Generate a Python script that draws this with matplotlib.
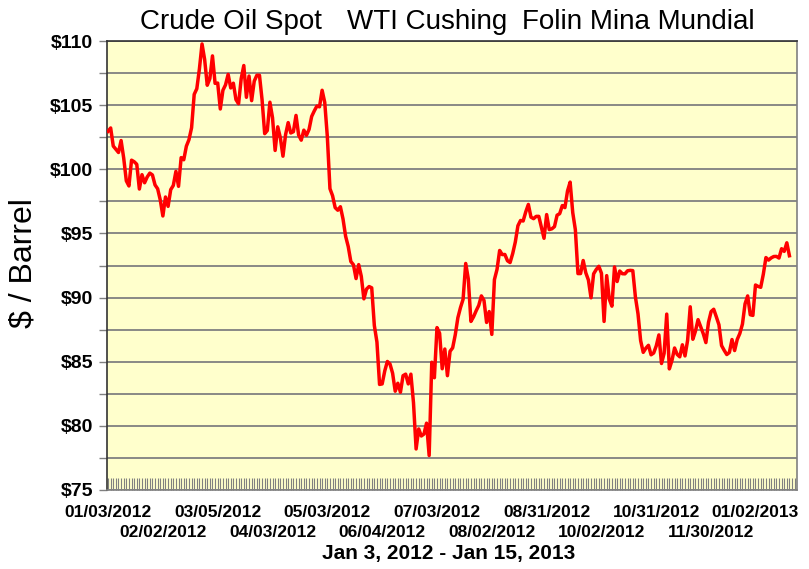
import matplotlib
matplotlib.use('Agg')
import matplotlib.pyplot as plt
import matplotlib.transforms as mtransforms
from matplotlib.ticker import MultipleLocator, FuncFormatter

# WTI Cushing daily spot, $/barrel, Jan 3 2012 - Jan 15 2013 (one value per trading day)
prices = [
    # Jan 2012
    102.96, 103.22, 101.81, 101.56, 101.31, 102.24, 100.87, 99.10, 98.70, 100.71,
    100.59, 100.39, 98.46, 99.58, 98.95, 99.40, 99.70, 99.56, 98.78, 98.48,
    # Feb
    97.61, 96.36, 97.84, 97.11, 98.41, 98.74, 99.84, 98.67, 100.91, 100.74,
    101.80, 102.31, 103.24, 105.84, 106.28, 107.83, 109.77, 108.56, 106.55, 107.07,
    # Mar
    108.84, 106.70, 106.72, 104.70, 106.16, 106.58, 107.40, 106.34, 106.71, 105.43,
    105.11, 107.06, 108.09, 105.61, 107.27, 105.35, 106.87, 107.33, 107.33, 105.41,
    102.78, 103.02,
    # Apr
    105.23, 104.02, 101.47, 103.31, 102.46, 101.02, 102.70, 103.64, 102.83, 102.93,
    104.20, 102.67, 102.27, 103.05, 102.65, 103.11, 104.12, 104.55, 104.93, 104.87,
    # May
    106.16, 105.22, 102.54, 98.49, 97.94, 97.01, 96.81, 97.08, 96.13, 94.78,
    93.98, 92.81, 92.56, 91.48, 92.57, 91.66, 89.90, 90.66, 90.86, 90.76,
    87.82, 86.53,
    # Jun
    83.23, 83.27, 84.29, 85.02, 84.82, 84.10, 82.70, 83.32, 82.62, 83.91,
    84.03, 83.27, 84.03, 81.80, 78.20, 79.76, 79.21, 79.36, 80.21, 77.69,
    84.96,
    # Jul
    83.75, 87.66, 87.22, 84.45, 85.99, 83.91, 85.81, 86.08, 87.10, 88.43,
    89.22, 89.87, 92.66, 91.44, 88.14, 88.50, 88.97, 89.39, 90.13, 89.78,
    88.06,
    # Aug
    88.91, 87.13, 91.40, 92.20, 93.67, 93.35, 93.36, 92.87, 92.73, 93.43,
    94.33, 95.60, 96.01, 95.97, 96.68, 97.26, 96.27, 96.15, 96.33, 96.33,
    95.49, 94.62, 96.47,
    # Sep
    95.30, 95.36, 95.53, 96.42, 96.54, 97.17, 97.01, 98.31, 99.00, 96.62,
    95.29, 91.87, 91.87, 92.89, 91.93, 91.37, 89.98, 91.85, 92.19,
    # Oct
    92.44, 91.89, 88.14, 91.71, 89.88, 89.33, 92.39, 91.25, 92.07, 91.86,
    91.85, 92.09, 92.12, 92.10, 90.05, 88.73, 86.65, 85.73, 86.05, 86.28,
    85.54, 85.68, 86.24,
    # Nov
    87.09, 84.86, 85.65, 88.71, 84.44, 85.09, 86.07, 85.57, 85.38, 86.32,
    85.45, 86.67, 89.28, 86.75, 87.38, 88.28, 87.74, 87.18, 86.49, 88.07,
    88.91,
    # Dec
    89.09, 88.50, 87.88, 86.26, 85.89, 85.56, 85.72, 86.73, 85.87, 86.73,
    87.20, 87.93, 89.51, 90.13, 88.66, 88.61, 90.98, 90.87, 90.80, 91.82,
    # Jan 2013
    93.12, 92.92, 93.09, 93.20, 93.21, 93.08, 93.81, 93.60, 94.27, 93.26,
]

tick_labels = ["01/03/2012", "02/02/2012", "03/05/2012", "04/03/2012", "05/03/2012",
               "06/04/2012", "07/03/2012", "08/02/2012", "08/31/2012", "10/02/2012",
               "10/31/2012", "11/30/2012", "01/02/2013"]
label_step = 21

title_parts = ["Crude Oil Spot", "WTI Cushing", "Folin Mina Mundial"]
y_label = "$ / Barrel"
x_label = "Jan 3, 2012 - Jan 15, 2013"

plt.rcParams['font.family'] = ['Liberation Sans', 'DejaVu Sans']

W, H = 809, 569
fig = plt.figure(figsize=(W / 100, H / 100), dpi=100)
ax = fig.add_axes([107 / W, 1 - 490 / H, (797 - 107) / W, (490 - 41) / H])
ax.set_facecolor('#FFFFCC')

x = list(range(len(prices)))
ax.plot(x, prices, color='#FF0000', lw=2.5, solid_joinstyle='round', zorder=3)

ax.set_xlim(-0.4, 263.9)
ax.set_ylim(75, 110)

# y axis: labels every $5, gridlines every $2.50
ax.yaxis.set_major_locator(MultipleLocator(5))
ax.yaxis.set_minor_locator(MultipleLocator(2.5))
ax.yaxis.set_major_formatter(FuncFormatter(lambda v, p: f"${v:.0f}"))
ax.grid(axis='y', which='both', color='#808080', lw=1.3, zorder=1)
ax.tick_params(axis='y', which='both', direction='out', length=6, width=1,
               color='#808080', labelsize=14, pad=4)
for t in ax.get_yticklabels():
    t.set_fontweight('bold')

# x axis: tick mark per trading day, date labels staggered on two rows
ticks = [i * label_step for i in range(len(tick_labels))]
ax.set_xticks(ticks)
ax.set_xticklabels(tick_labels, fontweight='bold', fontsize=12.5)
ax.xaxis.set_minor_locator(MultipleLocator(1))
ax.tick_params(axis='x', which='both', direction='in', length=9, width=0.8,
               color='#808080')
for i, tk in enumerate(ax.xaxis.get_major_ticks()):
    tk.set_pad(10.5 if i % 2 == 0 else 25.5)

# the last date label sits a little left of its tick, as in the original
last = ax.get_xticklabels()[-1]
last.set_transform(last.get_transform() +
                   mtransforms.ScaledTranslation(-11 / 100, 0, fig.dpi_scale_trans))

for side in ['left', 'top']:
    ax.spines[side].set_color('#333333')
for side in ['right', 'bottom']:
    ax.spines[side].set_color('#808080')
for s in ax.spines.values():
    s.set_linewidth(1.2)

# title in three pieces, like the original
fig.text(140 / W, 1 - 22 / H, title_parts[0], fontsize=20, va='center', ha='left')
fig.text(347 / W, 1 - 22 / H, title_parts[1], fontsize=20, va='center', ha='left')
fig.text(522 / W, 1 - 22 / H, title_parts[2], fontsize=20, va='center', ha='left')

fig.text(24 / W, 1 - 263 / H, y_label, fontsize=23, rotation=90, va='center', ha='center')
fig.text(449 / W, 1 - 553 / H, x_label, fontsize=15, fontweight='bold', va='center', ha='center')

fig.savefig('out.png', dpi=100, facecolor='white')
